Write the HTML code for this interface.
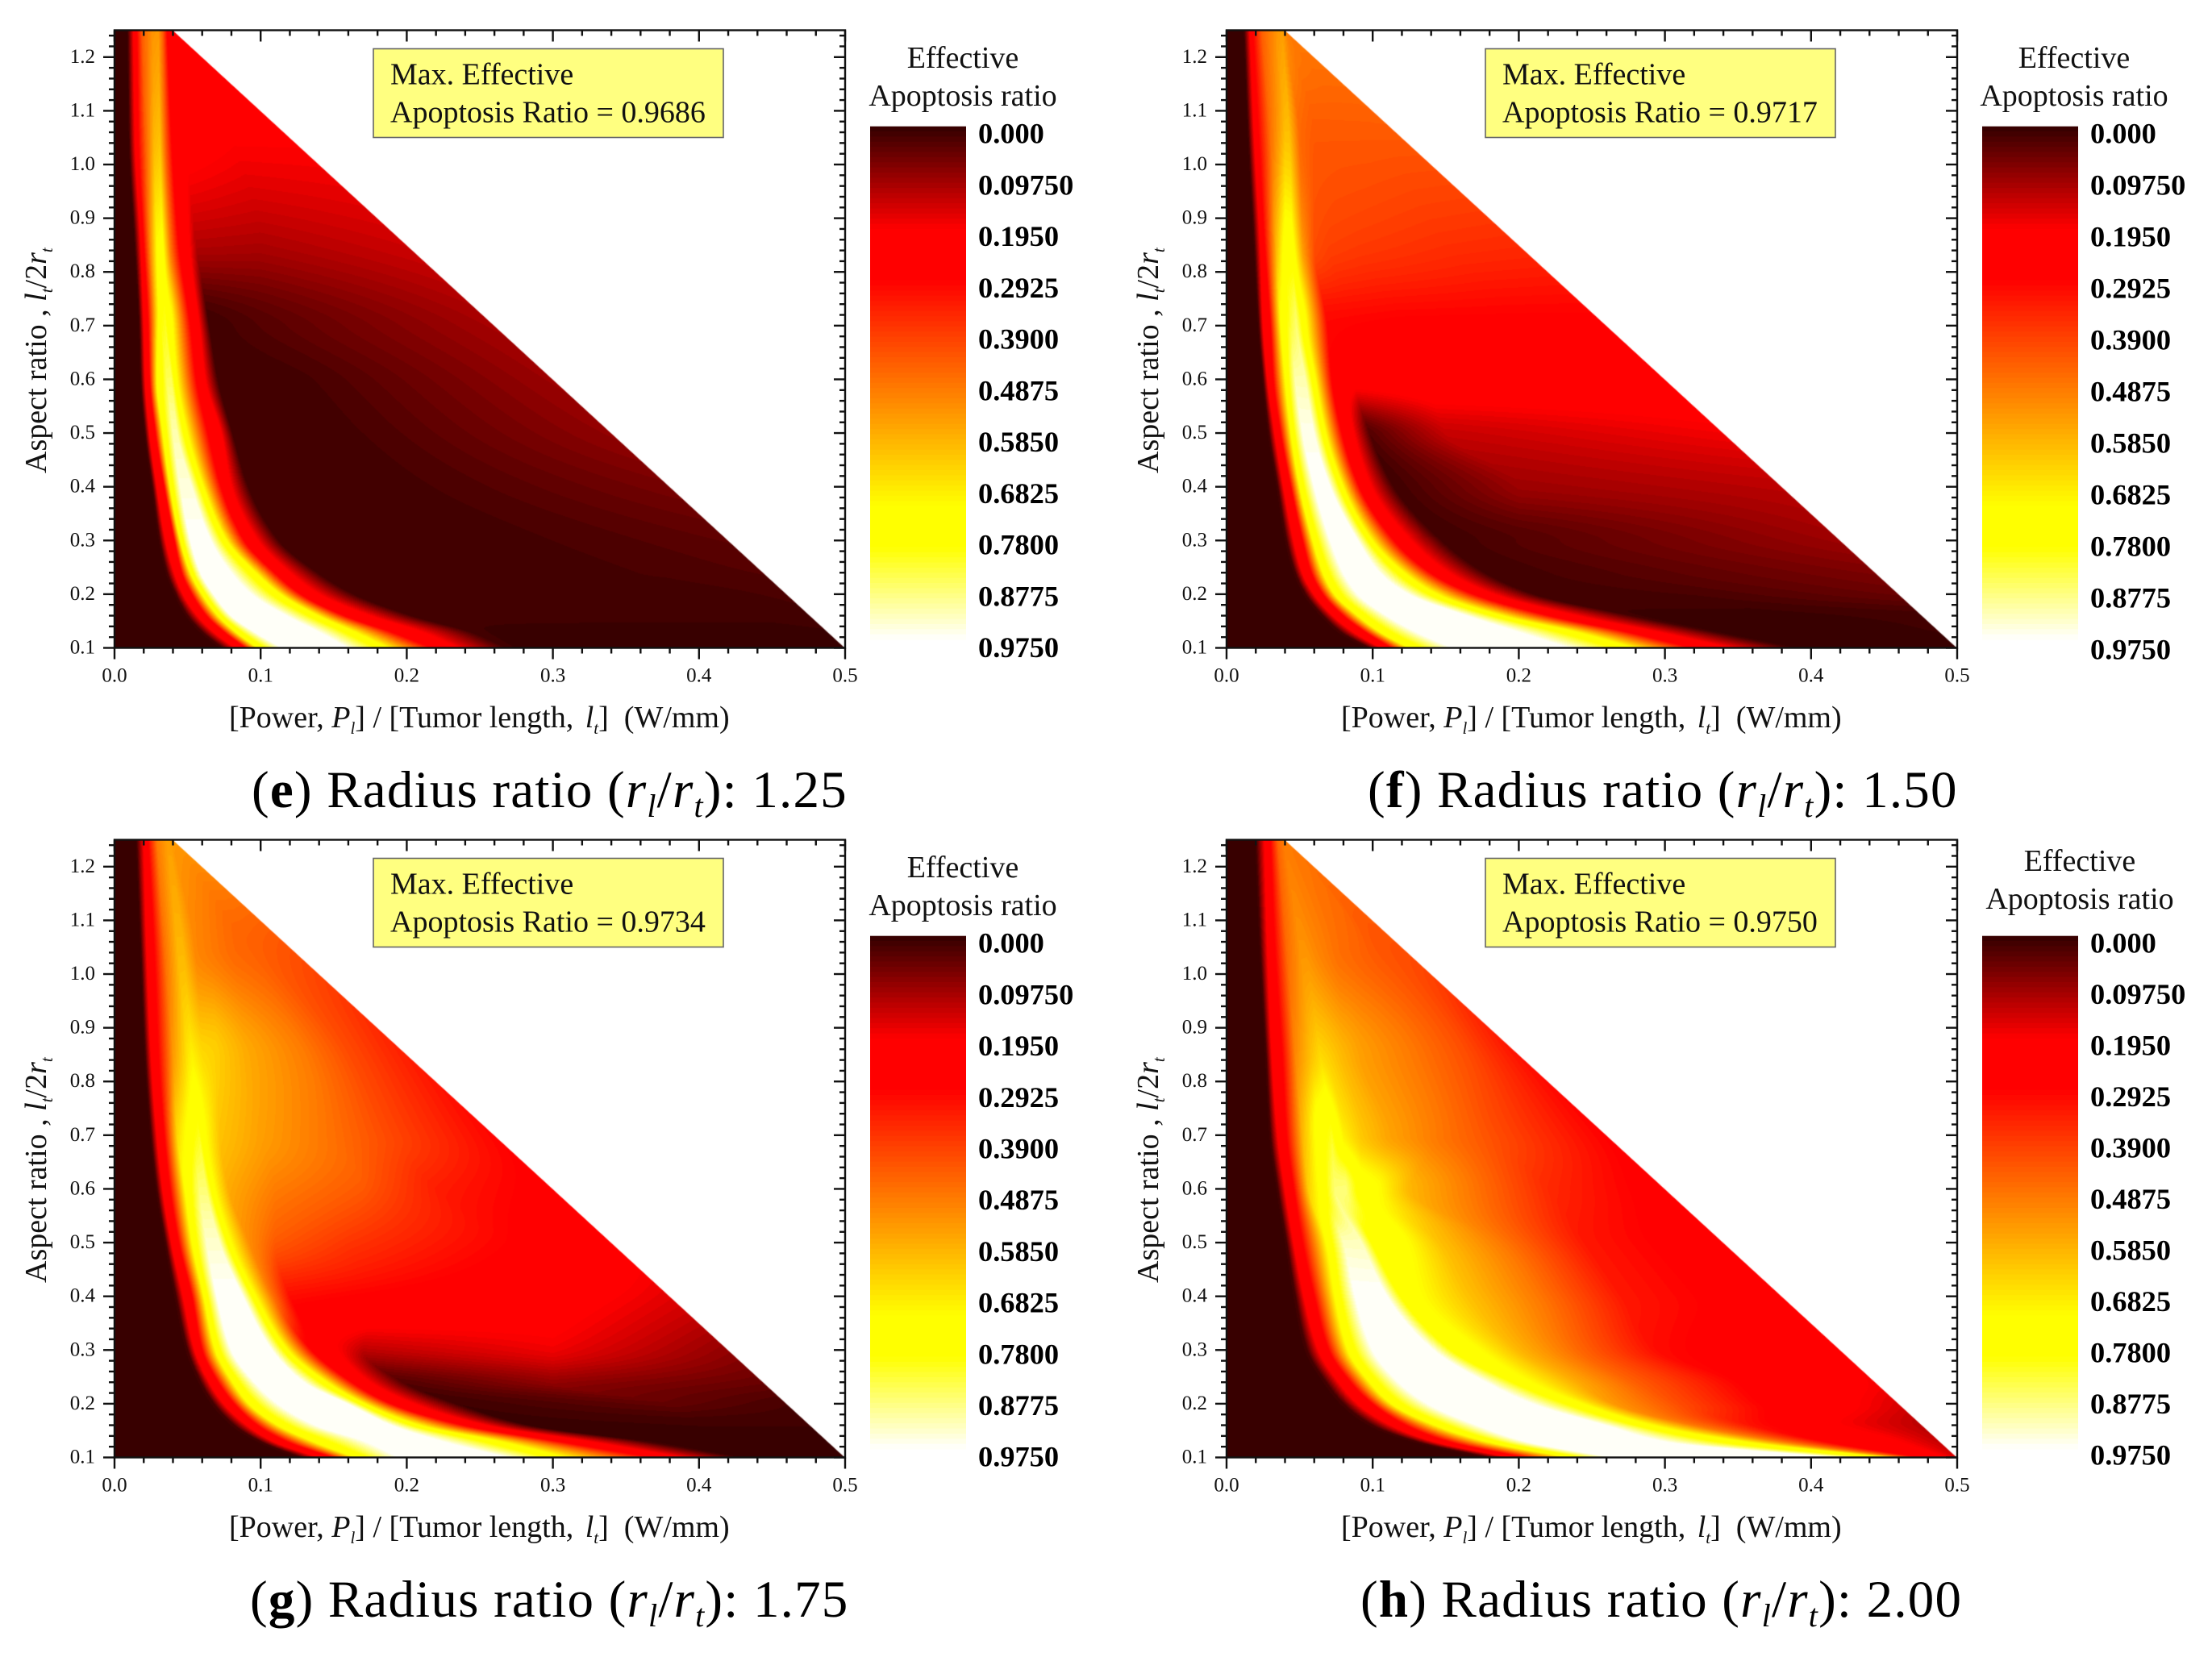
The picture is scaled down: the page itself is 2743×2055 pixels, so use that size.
<!DOCTYPE html>
<html lang="en">
<head>
<meta charset="utf-8">
<title>Effective apoptosis ratio heatmaps</title>
<style>
html,body{margin:0;padding:0;background:#fff;}
#stage{position:relative;width:2743px;height:2055px;overflow:hidden;background:#fff;}
#stage canvas{position:absolute;display:block;}
#overlay{position:absolute;left:0;top:0;}
text{font-family:"Liberation Serif",serif;fill:#111;white-space:pre;}
.t38{font-size:38px;}
.tick{font-size:25px;}
.lvl{font-size:36.4px;font-weight:bold;fill:#000;}
.cap{font-size:65px;letter-spacing:1.2px;fill:#000;}
.capsub{font-size:40px;font-style:italic;}
.sub{font-size:21px;font-style:italic;}
</style>
</head>
<body>
<div id="stage">
<svg id="overlay" width="2743" height="2055" viewBox="0 0 2743 2055" xmlns="http://www.w3.org/2000/svg">

<g id="panel-e" transform="translate(0,0)">
  <rect x="463" y="60.5" width="434" height="110" fill="#ffff80" stroke="#666" stroke-width="1.6"/>
  <text class="t38" x="484" y="104.5">Max. Effective</text>
  <text class="t38" x="484" y="151.5">Apoptosis Ratio = 0.9686</text>
  <text class="t38" x="1194" y="84" text-anchor="middle">Effective</text>
  <text class="t38" x="1194" y="131" text-anchor="middle">Apoptosis ratio</text>
  <text class="t38" x="284" y="902">[Power, <tspan font-style="italic">P</tspan><tspan class="sub" dy="8">l</tspan><tspan dy="-8">] / [Tumor length, </tspan><tspan font-style="italic" dx="5">l</tspan><tspan class="sub" dy="8">t</tspan><tspan dy="-8">]  (W/mm)</tspan></text>
  <text class="t38" transform="translate(57,587) rotate(-90)">Aspect ratio , <tspan font-style="italic">l</tspan><tspan class="sub" dy="8">t</tspan><tspan dy="-8">/2</tspan><tspan font-style="italic">r</tspan><tspan class="sub" dy="8">t</tspan></text>
  <text class="cap" x="312" y="1001">(<tspan font-weight="bold">e</tspan>) Radius ratio (<tspan font-style="italic">r</tspan><tspan class="capsub" dy="12">l</tspan><tspan dy="-12">/</tspan><tspan font-style="italic">r</tspan><tspan class="capsub" dy="12">t</tspan><tspan dy="-12">): 1.25</tspan></text>
</g>

<g id="panel-f" transform="translate(1379,0)">
  <rect x="463" y="60.5" width="434" height="110" fill="#ffff80" stroke="#666" stroke-width="1.6"/>
  <text class="t38" x="484" y="104.5">Max. Effective</text>
  <text class="t38" x="484" y="151.5">Apoptosis Ratio = 0.9717</text>
  <text class="t38" x="1193" y="84" text-anchor="middle">Effective</text>
  <text class="t38" x="1193" y="131" text-anchor="middle">Apoptosis ratio</text>
  <text class="t38" x="284" y="902">[Power, <tspan font-style="italic">P</tspan><tspan class="sub" dy="8">l</tspan><tspan dy="-8">] / [Tumor length, </tspan><tspan font-style="italic" dx="5">l</tspan><tspan class="sub" dy="8">t</tspan><tspan dy="-8">]  (W/mm)</tspan></text>
  <text class="t38" transform="translate(57,587) rotate(-90)">Aspect ratio , <tspan font-style="italic">l</tspan><tspan class="sub" dy="8">t</tspan><tspan dy="-8">/2</tspan><tspan font-style="italic">r</tspan><tspan class="sub" dy="8">t</tspan></text>
  <text class="cap" x="317" y="1001">(<tspan font-weight="bold">f</tspan>) Radius ratio (<tspan font-style="italic">r</tspan><tspan class="capsub" dy="12">l</tspan><tspan dy="-12">/</tspan><tspan font-style="italic">r</tspan><tspan class="capsub" dy="12">t</tspan><tspan dy="-12">): 1.50</tspan></text>
</g>

<g id="panel-g" transform="translate(0,1004)">
  <rect x="463" y="60.5" width="434" height="110" fill="#ffff80" stroke="#666" stroke-width="1.6"/>
  <text class="t38" x="484" y="104.5">Max. Effective</text>
  <text class="t38" x="484" y="151.5">Apoptosis Ratio = 0.9734</text>
  <text class="t38" x="1194" y="84" text-anchor="middle">Effective</text>
  <text class="t38" x="1194" y="131" text-anchor="middle">Apoptosis ratio</text>
  <text class="t38" x="284" y="902">[Power, <tspan font-style="italic">P</tspan><tspan class="sub" dy="8">l</tspan><tspan dy="-8">] / [Tumor length, </tspan><tspan font-style="italic" dx="5">l</tspan><tspan class="sub" dy="8">t</tspan><tspan dy="-8">]  (W/mm)</tspan></text>
  <text class="t38" transform="translate(57,587) rotate(-90)">Aspect ratio , <tspan font-style="italic">l</tspan><tspan class="sub" dy="8">t</tspan><tspan dy="-8">/2</tspan><tspan font-style="italic">r</tspan><tspan class="sub" dy="8">t</tspan></text>
  <text class="cap" x="310" y="1001">(<tspan font-weight="bold">g</tspan>) Radius ratio (<tspan font-style="italic">r</tspan><tspan class="capsub" dy="12">l</tspan><tspan dy="-12">/</tspan><tspan font-style="italic">r</tspan><tspan class="capsub" dy="12">t</tspan><tspan dy="-12">): 1.75</tspan></text>
</g>

<g id="panel-h" transform="translate(1379,1004)">
  <rect x="463" y="60.5" width="434" height="110" fill="#ffff80" stroke="#666" stroke-width="1.6"/>
  <text class="t38" x="484" y="104.5">Max. Effective</text>
  <text class="t38" x="484" y="151.5">Apoptosis Ratio = 0.9750</text>
  <text class="t38" x="1200" y="76" text-anchor="middle">Effective</text>
  <text class="t38" x="1200" y="123" text-anchor="middle">Apoptosis ratio</text>
  <text class="t38" x="284" y="902">[Power, <tspan font-style="italic">P</tspan><tspan class="sub" dy="8">l</tspan><tspan dy="-8">] / [Tumor length, </tspan><tspan font-style="italic" dx="5">l</tspan><tspan class="sub" dy="8">t</tspan><tspan dy="-8">]  (W/mm)</tspan></text>
  <text class="t38" transform="translate(57,587) rotate(-90)">Aspect ratio , <tspan font-style="italic">l</tspan><tspan class="sub" dy="8">t</tspan><tspan dy="-8">/2</tspan><tspan font-style="italic">r</tspan><tspan class="sub" dy="8">t</tspan></text>
  <text class="cap" x="308" y="1001">(<tspan font-weight="bold">h</tspan>) Radius ratio (<tspan font-style="italic">r</tspan><tspan class="capsub" dy="12">l</tspan><tspan dy="-12">/</tspan><tspan font-style="italic">r</tspan><tspan class="capsub" dy="12">t</tspan><tspan dy="-12">): 2.00</tspan></text>
</g>
</svg>
</div>

<script>
const aspectRows=[1.25,1.05,.85,.7,.6,.5,.4,.3,.24,.2,.16,.13,.1];
const xTickValues=[0,.1,.2,.3,.4,.5];
const xTickLabels=['0.0','0.1','0.2','0.3','0.4','0.5'];
const yTickValues=[.1,.2,.3,.4,.5,.6,.7,.8,.9,1,1.1,1.2];
const yTickLabels=['0.1','0.2','0.3','0.4','0.5','0.6','0.7','0.8','0.9','1.0','1.1','1.2'];
const colorbarLabels=['0.000','0.09750','0.1950','0.2925','0.3900','0.4875','0.5850','0.6825','0.7800','0.8775','0.9750'];
const levelCount=100;
const maxRatio=.975;

// Each row: power/length (W/mm) at which the reading was taken; the matching ratio row follows.
const powerE=[
[.009,.013,.015,.019,.026,.030,.033,.036,.039,.040,.045,.06],
[.010,.014,.016,.021,.027,.031,.035,.039,.044,.048,.08,.13],
[.014,.018,.020,.024,.029,.033,.038,.044,.050,.056,.10,.21],
[.017,.020,.023,.029,.032,.035,.040,.052,.058,.065,.10,.27],
[.018,.021,.024,.029,.036,.039,.043,.056,.062,.071,.14,.30],
[.021,.024,.028,.033,.040,.043,.050,.064,.073,.081,.175,.34],
[.026,.029,.034,.038,.045,.053,.061,.073,.080,.092,.225,.38],
[.031,.035,.041,.045,.052,.066,.077,.089,.098,.113,.31,.42],
[.036,.041,.046,.052,.059,.08,.097,.11,.12,.14,.37,.444],
[.042,.047,.053,.06,.068,.094,.114,.128,.14,.165,.41,.46],
[.05,.057,.063,.071,.08,.118,.14,.158,.175,.205,.44,.476],
[.06,.068,.075,.083,.096,.14,.165,.19,.21,.245,.46,.488],
[.074,.083,.09,.098,.115,.16,.188,.218,.235,.27,.47,.5]];
const ratioE=[
[.01,.2,.28,.45,.54,.55,.45,.29,.26,.25,.25,.25],
[.01,.2,.28,.45,.60,.62,.45,.29,.25,.22,.20,.20],
[.01,.2,.29,.5,.72,.74,.5,.29,.22,.12,.115,.15],
[.01,.2,.29,.68,.8,.82,.72,.29,.2,.01,.03,.115],
[.01,.2,.29,.72,.86,.86,.72,.29,.2,.01,.02,.10],
[.01,.2,.29,.72,.92,.92,.72,.29,.2,.01,.02,.09],
[.01,.2,.29,.72,.95,.95,.72,.29,.2,.01,.02,.065],
[.01,.2,.29,.72,.97,.97,.72,.29,.2,.01,.02,.04],
[.01,.2,.29,.72,.97,.97,.72,.29,.2,.01,.02,.03],
[.01,.2,.29,.72,.97,.97,.72,.29,.2,.01,.015,.022],
[.01,.2,.29,.72,.97,.97,.72,.29,.2,.01,.012,.016],
[.01,.2,.29,.72,.97,.97,.72,.29,.2,.01,.005,.008],
[.01,.2,.29,.72,.97,.97,.72,.29,.2,.01,0,0]];

const powerF=[
[.012,.016,.018,.024,.034,.038,.039,.040,.041,.042,.05,.06],
[.015,.019,.022,.030,.040,.043,.050,.060,.08,.10,.11,.13],
[.019,.023,.026,.034,.040,.045,.052,.060,.07,.09,.15,.21],
[.022,.025,.030,.037,.044,.048,.055,.069,.09,.12,.20,.27],
[.025,.028,.032,.040,.047,.054,.061,.072,.08,.088,.14,.3],
[.029,.033,.037,.044,.052,.060,.068,.079,.087,.098,.15,.34],
[.035,.039,.044,.050,.060,.071,.080,.091,.099,.115,.2,.38],
[.041,.046,.052,.059,.071,.090,.100,.115,.126,.148,.2,.42],
[.047,.052,.058,.066,.08,.105,.122,.14,.152,.178,.27,.444],
[.054,.060,.066,.074,.09,.125,.145,.17,.183,.212,.32,.46],
[.066,.073,.08,.09,.11,.165,.19,.222,.24,.28,.38,.476],
[.078,.087,.095,.105,.13,.20,.24,.275,.295,.335,.42,.488],
[.098,.106,.113,.125,.155,.235,.28,.32,.345,.39,.45,.5]];
const ratioF=[
[.01,.2,.29,.45,.54,.56,.55,.52,.5,.5,.5,.5],
[.01,.2,.29,.48,.62,.62,.47,.44,.44,.44,.44,.44],
[.01,.2,.29,.6,.76,.76,.55,.42,.40,.39,.37,.36],
[.01,.2,.29,.72,.84,.88,.72,.30,.29,.28,.28,.28],
[.01,.2,.29,.72,.92,.92,.72,.29,.25,.22,.24,.24],
[.01,.2,.29,.72,.96,.96,.72,.29,.2,.03,.14,.185],
[.01,.2,.29,.72,.97,.97,.72,.29,.2,.01,.10,.13],
[.01,.2,.29,.72,.97,.97,.72,.29,.2,.01,.03,.10],
[.01,.2,.29,.72,.97,.97,.72,.29,.2,.01,.03,.07],
[.01,.2,.29,.72,.97,.97,.72,.29,.2,.01,.02,.05],
[.01,.2,.29,.72,.97,.97,.72,.29,.2,.01,.005,.015],
[.01,.2,.29,.72,.97,.97,.72,.29,.2,.01,0,.01],
[.01,.2,.29,.72,.97,.97,.72,.29,.2,.01,0,0]];

const powerG=[
[.015,.020,.023,.029,.036,.038,.039,.040,.041,.042,.05,.06],
[.018,.022,.027,.034,.043,.047,.055,.065,.08,.09,.10,.13],
[.021,.025,.030,.040,.050,.053,.060,.07,.09,.13,.16,.21],
[.025,.029,.034,.043,.055,.058,.063,.072,.10,.15,.19,.27],
[.029,.033,.038,.048,.058,.063,.069,.078,.11,.17,.22,.31],
[.035,.039,.044,.053,.063,.072,.080,.092,.11,.16,.27,.35],
[.042,.047,.053,.061,.07,.088,.097,.108,.12,.18,.30,.39],
[.050,.055,.060,.069,.08,.108,.119,.135,.15,.17,.30,.42],
[.059,.065,.071,.081,.096,.13,.146,.163,.175,.198,.30,.444],
[.068,.075,.082,.092,.112,.16,.172,.19,.205,.235,.38,.46],
[.082,.091,.098,.112,.138,.19,.21,.24,.255,.285,.40,.476],
[.10,.109,.118,.136,.172,.225,.265,.305,.325,.365,.45,.488],
[.128,.14,.15,.165,.195,.27,.31,.37,.39,.43,.47,.5]];
const ratioG=[
[.01,.2,.29,.5,.56,.56,.55,.55,.55,.55,.55,.55],
[.01,.2,.29,.48,.6,.6,.52,.5,.47,.46,.45,.42],
[.01,.2,.29,.55,.68,.7,.66,.64,.58,.5,.42,.32],
[.01,.2,.29,.66,.8,.82,.72,.62,.56,.48,.41,.28],
[.01,.2,.29,.72,.88,.88,.72,.58,.5,.44,.34,.26],
[.01,.2,.29,.72,.94,.94,.72,.53,.44,.38,.29,.21],
[.01,.2,.29,.72,.97,.97,.72,.49,.31,.28,.23,.16],
[.01,.2,.29,.72,.97,.97,.72,.29,.21,.13,.18,.09],
[.01,.2,.29,.72,.97,.97,.72,.29,.2,.03,.09,.05],
[.01,.2,.29,.72,.97,.97,.72,.29,.2,.01,.045,.02],
[.01,.2,.29,.72,.97,.97,.72,.29,.2,.005,.01,.01],
[.01,.2,.29,.72,.97,.97,.72,.29,.2,.01,.005,.005],
[.01,.2,.29,.72,.97,.97,.72,.29,.2,.01,0,0]];

const powerH=[
[.020,.026,.030,.035,.039,.040,.0405,.041,.042,.043,.05,.06],
[.023,.028,.033,.041,.050,.054,.06,.075,.09,.10,.11,.13],
[.027,.031,.038,.047,.058,.064,.07,.08,.092,.13,.165,.21],
[.030,.035,.041,.052,.063,.072,.08,.092,.11,.147,.185,.27],
[.035,.040,.046,.056,.066,.074,.082,.092,.105,.125,.22,.31],
[.041,.046,.052,.068,.08,.0925,.10,.125,.145,.19,.245,.35],
[.047,.053,.060,.074,.088,.11,.12,.135,.165,.215,.27,.39],
[.055,.063,.07,.083,.10,.142,.155,.175,.2,.24,.295,.42],
[.068,.077,.085,.098,.118,.178,.198,.21,.24,.28,.35,.444],
[.08,.09,.10,.113,.138,.21,.235,.245,.265,.31,.37,.46],
[.10,.113,.123,.143,.172,.26,.283,.293,.32,.36,.42,.476],
[.13,.142,.152,.178,.205,.30,.34,.355,.38,.41,.45,.488],
[.18,.195,.205,.235,.265,.42,.445,.455,.465,.475,.49,.5]];
const ratioH=[
[.01,.2,.29,.46,.5,.5,.5,.5,.5,.5,.5,.5],
[.01,.2,.29,.47,.54,.54,.52,.48,.46,.44,.43,.42],
[.01,.2,.29,.52,.62,.66,.64,.6,.56,.49,.42,.29],
[.01,.2,.29,.6,.76,.82,.7,.63,.57,.49,.42,.27],
[.01,.2,.29,.64,.76,.88,.88,.76,.72,.6,.36,.25],
[.01,.2,.29,.72,.93,.93,.78,.72,.62,.49,.33,.24],
[.01,.2,.29,.72,.97,.97,.78,.72,.62,.49,.33,.24],
[.01,.2,.29,.72,.97,.97,.78,.72,.6,.47,.31,.2],
[.01,.2,.29,.72,.97,.97,.78,.72,.58,.45,.29,.19],
[.01,.2,.29,.72,.97,.97,.78,.72,.55,.42,.28,.16],
[.01,.2,.29,.72,.97,.97,.78,.72,.5,.32,.2,.13],
[.01,.2,.29,.72,.97,.97,.78,.72,.5,.29,.22,.14],
[.01,.2,.29,.72,.97,.97,.78,.72,.5,.3,.22,.16]];

// Colour scale of the figure's colorbar (fraction of range, r, g, b).
const scaleFractions=[0,.2,.3,.74,.82,1];
const scaleRed=[51,255,255,255,255,255];
const scaleGreen=[0,0,0,255,255,255];
const scaleBlue=[0,0,0,0,0,255];

const plotLeft=142,plotTop=37.5,plotWidth=906,plotHeight=766;
const barLeft=1079,barRight=1198,barTop=156.7,barBottom=793;
const xMax=.5,yMin=.1,yMax=1.25;
function xScale(v){return plotLeft+v/xMax*plotWidth;}
function yScale(v){return plotTop+plotHeight-(v-yMin)/(yMax-yMin)*plotHeight;}

const SVGNS='http://www.w3.org/2000/svg';
function make(tag,parent,attrs,txt){
  const el=document.createElementNS(SVGNS,tag);
  for(const k in attrs)el.setAttribute(k,attrs[k]);
  if(txt!==undefined)el.textContent=txt;
  parent.appendChild(el);
  return el;
}
function scaleColor(f){
  let i=0;
  while(i<scaleFractions.length-2&&f>scaleFractions[i+1])i++;
  const t=Math.max(0,Math.min(1,(f-scaleFractions[i])/(scaleFractions[i+1]-scaleFractions[i])));
  return [
    scaleRed[i]+(scaleRed[i+1]-scaleRed[i])*t,
    scaleGreen[i]+(scaleGreen[i+1]-scaleGreen[i])*t,
    scaleBlue[i]+(scaleBlue[i+1]-scaleBlue[i])*t];
}
const levelColors=[];
for(let i=0;i<levelCount;i++){levelColors.push(scaleColor((i+.5)/levelCount));}

function rowSegment(y){
  let i=0;
  while(i<aspectRows.length-2&&y<aspectRows[i+1])i++;
  return i;
}
// Monotone (PCHIP) tangent across rows, so contours bend smoothly without overshoot.
function rowTangent(table,k,i){
  const n=aspectRows.length;
  if(i===0)return (table[1][k]-table[0][k])/(aspectRows[1]-aspectRows[0]);
  if(i===n-1)return (table[n-1][k]-table[n-2][k])/(aspectRows[n-1]-aspectRows[n-2]);
  const h0=aspectRows[i]-aspectRows[i-1],h1=aspectRows[i+1]-aspectRows[i];
  const d0=(table[i][k]-table[i-1][k])/h0,d1=(table[i+1][k]-table[i][k])/h1;
  if(d0*d1<=0)return 0;
  const w1=2*h1+h0,w2=h1+2*h0;
  return (w1+w2)/(w1/d0+w2/d1);
}
function hermite(table,k,i,y){
  const y0=aspectRows[i],y1=aspectRows[i+1];
  const p0=table[i][k],p1=table[i+1][k];
  const m0=rowTangent(table,k,i),m1=rowTangent(table,k,i+1);
  const h=y1-y0,t=(y-y0)/h,t2=t*t,t3=t2*t;
  return (2*t3-3*t2+1)*p0+(t3-2*t2+t)*h*m0+(-2*t3+3*t2)*p1+(t3-t2)*h*m1;
}
function drawHeatmap(canvas,powers,ratios){
  const W=canvas.width,H=canvas.height;
  const ctx=canvas.getContext('2d');
  const img=ctx.createImageData(W,H);
  const px=img.data;
  const K=powers[0].length;
  const slope=(2.5*plotHeight/(yMax-yMin))/(plotWidth/xMax);
  const norm=slope/Math.sqrt(1+slope*slope);
  for(let r=0;r<H;r++){
    const y=yMax-(r+.5)/H*(yMax-yMin);
    const i=rowSegment(y);
    const xs=[0],vs=[0];
    for(let k=0;k<K;k++){
      let x=hermite(powers,k,i,y);
      const v=hermite(ratios,k,i,y);
      if(x<=xs[xs.length-1])x=xs[xs.length-1]+1e-5;
      xs.push(x);vs.push(v);
    }
    const boundaryPx=(1.35-y)/2.5/xMax*W;
    let k=0;
    for(let c=0;c<W;c++){
      const d=(c+.5-boundaryPx)*norm;
      const a=Math.max(0,Math.min(1,.5-d));
      if(a<=0)break;
      const x=(c+.5)/W*xMax;
      while(k<xs.length-2&&x>xs[k+1])k++;
      let v;
      if(x>=xs[xs.length-1])v=vs[vs.length-1];
      else v=vs[k]+(vs[k+1]-vs[k])*(x-xs[k])/(xs[k+1]-xs[k]);
      let lv=Math.floor(v/maxRatio*levelCount);
      lv=Math.max(0,Math.min(levelCount-1,lv));
      const col=levelColors[lv];
      const o=(r*W+c)*4;
      px[o]=col[0];px[o+1]=col[1];px[o+2]=col[2];px[o+3]=a*255;
    }
  }
  ctx.putImageData(img,0,0);
}

const panels=[
 {id:'panel-e',dx:0,dy:0,powers:powerE,ratios:ratioE,step:63.73},
 {id:'panel-f',dx:1379,dy:0,powers:powerF,ratios:ratioF,step:64},
 {id:'panel-g',dx:0,dy:1004,powers:powerG,ratios:ratioG,step:63.7},
 {id:'panel-h',dx:1379,dy:1004,powers:powerH,ratios:ratioH,step:63.5}
];
const stage=document.getElementById('stage');
const overlay=document.getElementById('overlay');
for(const p of panels){
  const cv=document.createElement('canvas');
  cv.width=plotWidth;cv.height=plotHeight;
  cv.style.left=(plotLeft+p.dx)+'px';
  cv.style.top=(plotTop+p.dy)+'px';
  
  
  stage.insertBefore(cv,overlay);
  drawHeatmap(cv,p.powers,p.ratios);

  const g=document.getElementById(p.id);
  const axes=make('g',g,{});
  
  

  // minor and major ticks on all four sides
  const tickStyle={stroke:'#111','stroke-width':2.4};
  for(let i=0;i<=25;i++){
    const xv=i*.02,major=i%5===0,len=major?14:7,px=xScale(xv);
    const b=make('line',axes,Object.assign({x1:px,x2:px,y1:plotTop+plotHeight,y2:plotTop+plotHeight+len},tickStyle));
    
    
    const t=make('line',axes,Object.assign({x1:px,x2:px,y1:plotTop,y2:plotTop+len},tickStyle));
    
    
  }
  for(let i=0;i<=57;i++){
    const yv=.1+i*.02,major=i%5===0,len=major?14:7,py=yScale(yv);
    const l=make('line',axes,Object.assign({x1:plotLeft-len,x2:plotLeft,y1:py,y2:py},tickStyle));
    
    
    const r=make('line',axes,Object.assign({x1:plotLeft+plotWidth-len,x2:plotLeft+plotWidth,y1:py,y2:py},tickStyle));
    
    
  }
  const frame=make('rect',axes,{x:plotLeft,y:plotTop,width:plotWidth,height:plotHeight,fill:'none',stroke:'#111','stroke-width':2.4});
  
  

  xTickValues.forEach(function(v,i){
    const t=make('text',axes,{class:'tick',x:xScale(v),y:plotTop+plotHeight+42,'text-anchor':'middle'},xTickLabels[i]);
    
    
  });
  yTickValues.forEach(function(v,i){
    const t=make('text',axes,{class:'tick',x:plotLeft-24,y:yScale(v)+7,'text-anchor':'end'},yTickLabels[i]);
    
    
  });

  // colorbar
  const bar=make('g',g,{});
  
  
  const bandH=(barBottom-barTop)/levelCount;
  levelColors.forEach(function(c,i){
    const r=make('rect',bar,{x:barLeft,y:barTop+i*bandH,width:barRight-barLeft,height:bandH+.6,
      fill:'rgb('+Math.round(c[0])+','+Math.round(c[1])+','+Math.round(c[2])+')'});
    
    
  });
  colorbarLabels.forEach(function(s,i){
    const t=make('text',bar,{class:'lvl',x:1213,y:177.7+i*p.step},s);
    
    
  });
}
</script>
</body>
</html>
